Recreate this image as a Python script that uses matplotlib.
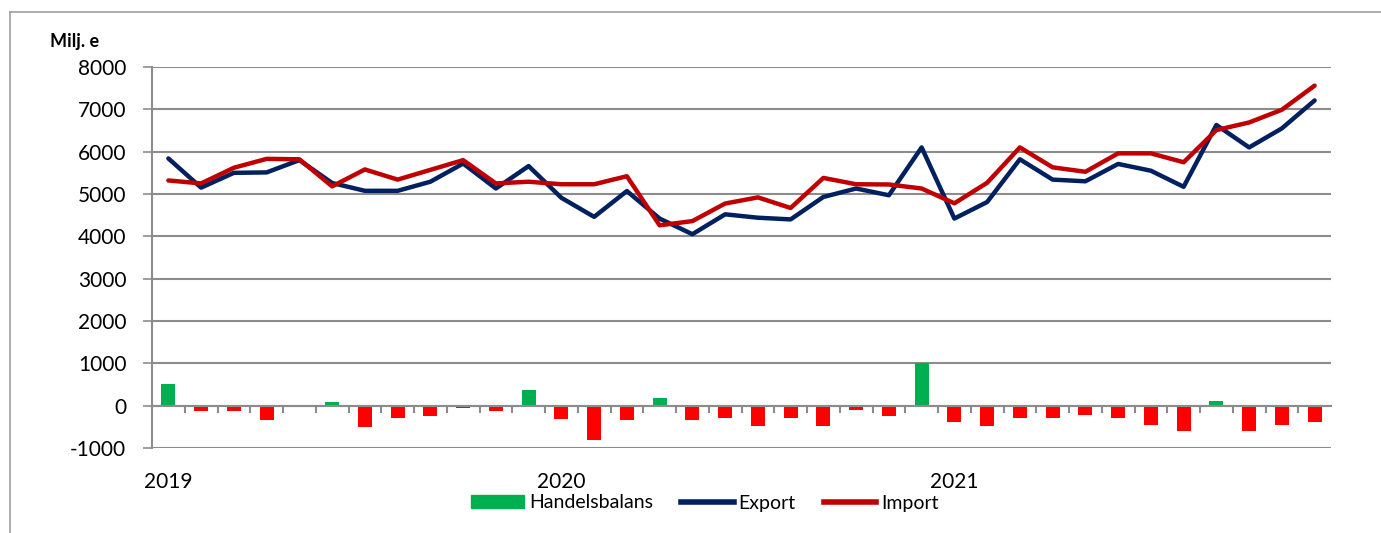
import numpy as np
import matplotlib.pyplot as plt
from matplotlib.lines import Line2D
from matplotlib.patches import Patch

# Data: monthly values 2019-01 .. 2021-12 (Milj. e)
years = ['2019', '2020', '2021']
export = [5840, 5150, 5500, 5510, 5800, 5260, 5075, 5075, 5290, 5720, 5130, 5660,
          4910, 4460, 5070, 4420, 4050, 4520, 4440, 4400, 4930, 5130, 4970, 6100,
          4420, 4810, 5820, 5340, 5300, 5710, 5550, 5170, 6630, 6100, 6550, 7210]
imp = [5320, 5250, 5620, 5830, 5820, 5180, 5580, 5340, 5570, 5800, 5250, 5290,
       5230, 5230, 5420, 4260, 4360, 4775, 4920, 4670, 5380, 5230, 5225, 5130,
       4780, 5265, 6100, 5630, 5525, 5960, 5960, 5750, 6510, 6690, 6990, 7560]
balans = [510, -130, -130, -350, -20, 80, -515, -280, -255, -60, -135, 365,
          -325, -800, -350, 180, -350, -280, -490, -280, -470, -110, -255, 1000,
          -375, -470, -300, -280, -230, -280, -445, -600, 110, -590, -445, -375]

x = np.arange(len(export))
grid_col = '#8c8c8c'
font = 'Lato'
plt.rcParams['font.family'] = [font, 'DejaVu Sans']
plt.rcParams['axes.unicode_minus'] = False

fig = plt.figure(figsize=(13.81, 5.33), dpi=100)
ax = fig.add_axes([152 / 1381, 1 - 448 / 533, (1331 - 152) / 1381, (448 - 67) / 533])

# staplar: grön för överskott, röd för underskott
bar_cols = ['#00B050' if v >= 0 else '#FF0000' for v in balans]
ax.bar(x, balans, width=0.43, color=bar_cols, zorder=2)
ax.plot(x, export, color='#002060', lw=3.2, zorder=3, solid_capstyle='round')
ax.plot(x, imp, color='#C00000', lw=3.2, zorder=4, solid_capstyle='round')

ax.set_xlim(-0.5, len(x) - 0.5)
ax.set_ylim(-1000, 8000)
ax.set_yticks(np.arange(-1000, 8001, 1000))
ax.yaxis.grid(True, color=grid_col, lw=1.5, zorder=0)
ax.tick_params(axis='y', direction='out', length=6.5, width=1.2, color=grid_col,
               pad=12, labelsize=15)

# kategoriaxel vid noll
ax.spines['bottom'].set_position(('data', 0))
ax.spines['bottom'].set_color(grid_col)
ax.spines['bottom'].set_linewidth(1.5)
ax.set_xticks(x[:-1] + 0.5)
ax.set_xticklabels([])
ax.tick_params(axis='x', direction='out', length=5, width=1.5, color=grid_col)
ax.spines['left'].set_color(grid_col)
ax.spines['left'].set_linewidth(1.5)
ax.spines['top'].set_visible(False)
ax.spines['right'].set_visible(False)
ax.set_axisbelow(True)

sec = ax.secondary_xaxis('bottom')
sec.set_xticks([0, 12, 24])
sec.set_xticklabels(years, fontsize=15)
sec.tick_params(length=0, pad=17)
sec.spines['bottom'].set_visible(False)

fig.text(50 / 1381, 1 - 42 / 533, 'Milj. e', fontsize=13, fontweight='bold',
         va='center', ha='left')

handles = [Patch(color='#00B050'),
           Line2D([0], [0], color='#002060', lw=4),
           Line2D([0], [0], color='#C00000', lw=4)]
fig.legend(handles, ['Handelsbalans', 'Export', 'Import'], loc='center',
           bbox_to_anchor=(705 / 1381, 1 - 503 / 533), ncol=3, frameon=False,
           fontsize=14, handlelength=2.7, handletextpad=0.25, columnspacing=1.45,
           handleheight=0.65)

# ram runt diagrammet
fig.add_artist(Line2D([10 / 1381, 1], [1 - 12 / 533, 1 - 12 / 533], color='#a0a0a0', lw=1.2))
fig.add_artist(Line2D([10 / 1381, 10 / 1381], [0, 1 - 12 / 533], color='#a0a0a0', lw=1.2))

fig.savefig('out.png', dpi=100)
